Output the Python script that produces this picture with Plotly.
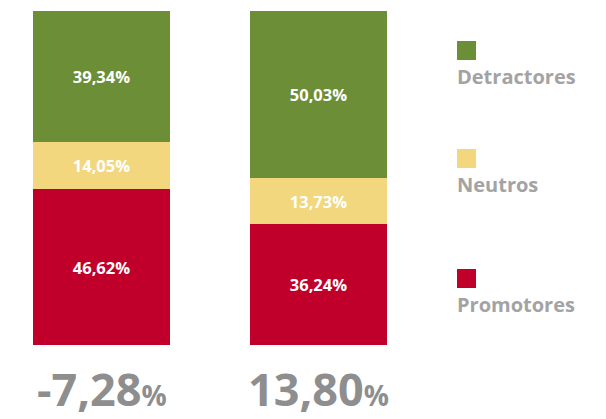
import plotly.graph_objects as go

categories = ["A", "B"]
series_names = ["Promotores", "Neutros", "Detractores"]
promotores = [46.62, 36.24]
neutros = [14.05, 13.73]
detractores = [39.34, 50.03]
nps_labels = ["-7,28", "13,80"]
colors = {"Promotores": "#C0002A", "Neutros": "#F2D77E", "Detractores": "#6B8E37"}

values = {"Promotores": promotores, "Neutros": neutros, "Detractores": detractores}
xpos = [0, 1]

fig = go.Figure()
for name in series_names:
    fig.add_trace(go.Bar(
        x=xpos, y=values[name], name=name,
        marker=dict(color=colors[name], line=dict(width=0)),
        width=0.63,
        text=[f"<b>{v:.2f}%</b>".replace(".", ",") for v in values[name]],
        textposition="inside", insidetextanchor="middle",
        textfont=dict(color="white", size=16.5, family="Open Sans"),
        hoverinfo="skip",
    ))

W, H = 606, 419
top, bottom = 11, 74
scale = 217.0
x0 = -101.5 / scale
x1 = (W - 101.5) / scale
plot_h = H - top - bottom


def py(px):
    return 1 - (px - top) / plot_h


fig.update_layout(
    width=W, height=H,
    barmode="stack",
    showlegend=False,
    margin=dict(l=0, r=0, t=top, b=bottom, pad=0),
    paper_bgcolor="white", plot_bgcolor="white",
    xaxis=dict(range=[x0, x1], visible=False, fixedrange=True),
    yaxis=dict(range=[0, 100], visible=False, fixedrange=True),
    font=dict(family="Open Sans"),
)

# NPS values below the bars
for x, lab in zip(xpos, nps_labels):
    fig.add_annotation(
        x=x, xref="x", y=py(388), yref="paper", yanchor="middle",
        text=f"<b>{lab}</b><span style='font-size:28px'><b>%</b></span>",
        showarrow=False,
        font=dict(size=45, color="#8E8E8E", family="Open Sans"),
    )

# Legend drawn manually (square above label)
legend_order = ["Detractores", "Neutros", "Promotores"]
legend_sq_top = [41, 149, 269]
for name, sqt in zip(legend_order, legend_sq_top):
    fig.add_shape(type="rect", xref="paper", yref="paper",
                  x0=457 / W, x1=476 / W, y0=py(sqt + 19), y1=py(sqt),
                  fillcolor=colors[name], line=dict(width=0))
    fig.add_annotation(
        x=455 / W, xref="paper", xanchor="left",
        y=py(sqt + 20), yref="paper", yanchor="top",
        text=f"<b>{name}</b>", showarrow=False,
        font=dict(size=20, color="#A3A3A3", family="Open Sans"),
    )

fig.write_html("out.html", config={"displayModeBar": False},
               post_script="document.body.style.margin='0';document.body.style.padding='0';")
